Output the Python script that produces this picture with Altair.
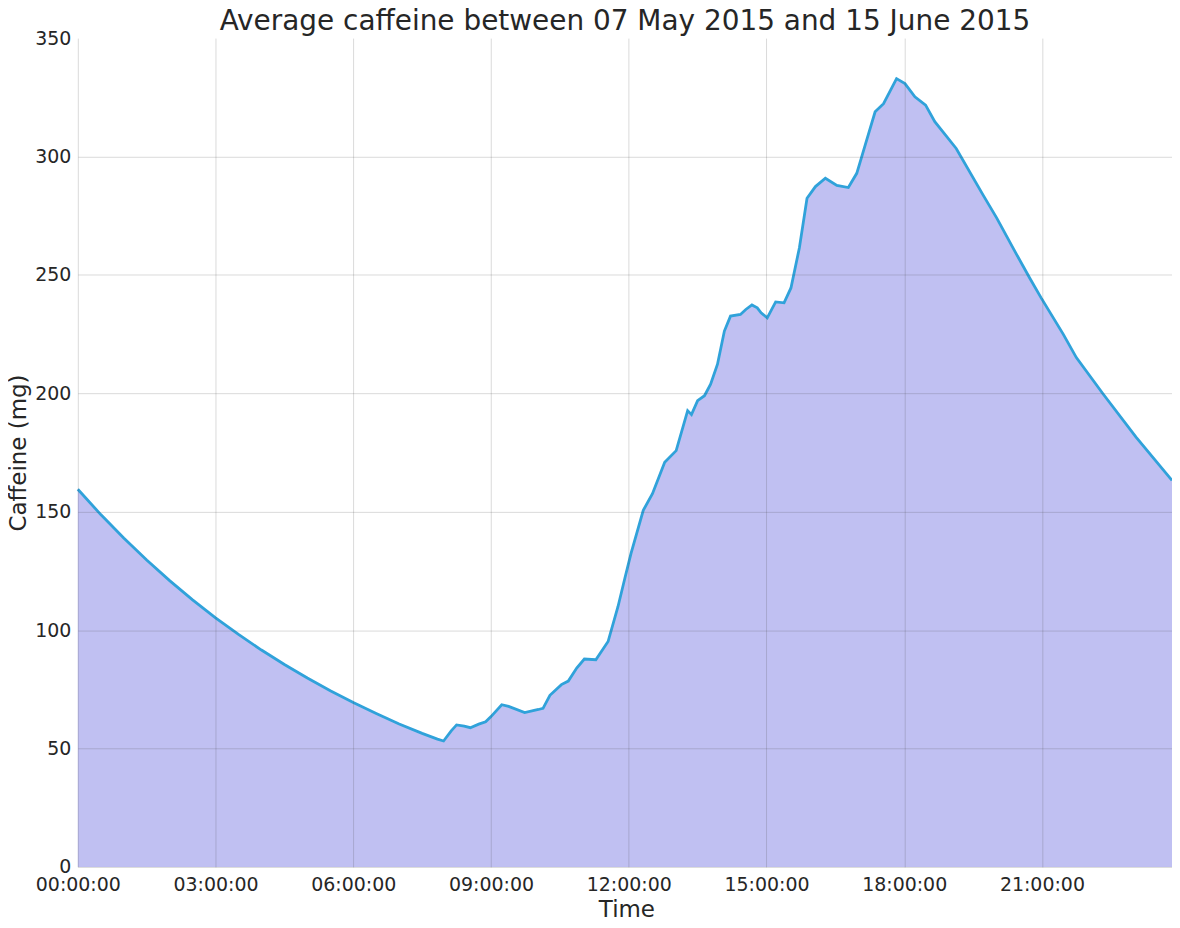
import altair as alt
import pandas as pd

times = ["00:00", "00:30", "01:00", "01:30", "02:00", "02:30", "03:00", "03:30",
         "04:00", "04:30", "05:00", "05:30", "06:00", "06:30", "07:00", "07:30",
         "07:50", "07:58", "08:08", "08:15", "08:25", "08:33", "08:44", "08:53",
         "09:00", "09:14", "09:23", "09:44", "10:02", "10:08", "10:17", "10:32",
         "10:41", "10:52", "11:02", "11:17", "11:33", "11:46", "11:55", "12:03",
         "12:19", "12:31", "12:47", "13:02", "13:17", "13:22", "13:30", "13:39",
         "13:47", "13:56", "14:05", "14:13", "14:26", "14:33", "14:41", "14:48",
         "14:53", "15:01", "15:12", "15:23", "15:32", "15:43", "15:53", "16:04",
         "16:17", "16:32", "16:47", "16:58", "17:09", "17:22", "17:33", "17:50",
         "18:01", "18:14", "18:28", "18:40", "19:08", "19:43", "20:01", "20:27",
         "20:44", "20:59", "21:28", "21:45", "22:20", "23:03", "23:50"]
caffeine = [159.5, 148.8, 138.9, 129.6, 120.9, 112.8, 105.2, 98.2,
            91.6, 85.5, 79.8, 74.4, 69.4, 64.8, 60.4, 56.4,
            54.0, 53.2, 57.5, 60.0, 59.5, 58.8, 60.3, 61.3,
            63.5, 68.5, 67.8, 65.2, 66.5, 67.0, 72.5, 77.0,
            78.5, 84.0, 87.8, 87.5, 95.2, 110.0, 122.0, 132.4,
            150.6, 157.6, 170.9, 175.8, 192.7, 191.0, 196.9, 199.0,
            203.9, 212.3, 226.3, 232.6, 233.3, 235.4, 237.3, 236.1,
            234.0, 231.9, 238.6, 238.2, 244.5, 261.4, 282.4, 287.3,
            290.8, 287.8, 286.9, 292.9, 304.8, 318.9, 322.3, 332.9,
            330.8, 325.2, 321.7, 314.7, 303.4, 283.8, 274.0, 258.6,
            248.7, 240.3, 224.9, 215.1, 199.7, 181.5, 163.2]

x_ticks = [0, 180, 360, 540, 720, 900, 1080, 1260]
y_ticks = [0, 50, 100, 150, 200, 250, 300, 350]
title_text = "Average caffeine between 07 May 2015 and 15 June 2015"

df = pd.DataFrame({"time": times, "caffeine": caffeine})
df["minutes"] = [int(t[:2]) * 60 + int(t[3:]) for t in times]

FONT = "DejaVu Sans"
GRID_OP = {"condition": {"test": "datum.value == 350", "value": 0}, "value": 0.2}

x_enc = alt.X(
    "minutes:Q",
    scale=alt.Scale(domain=[0, 1430], nice=False, zero=False),
    axis=alt.Axis(
        title="Time",
        values=x_ticks,
        labelExpr="(floor(datum.value/60) < 10 ? '0' : '') + floor(datum.value/60) + ':00:00'",
        grid=True,
        gridColor="#444444",
        gridOpacity=0.2,
        gridWidth=1,
        domain=False,
        ticks=False,
        tickSize=0,
        labelPadding=24,
        labelBaseline="alphabetic",
        labelFontSize=19,
        labelFont=FONT,
        labelColor="#262626",
        labelFlush=False,
        labelOverlap=False,
        titleFont=FONT,
        titleFontSize=23,
        titleFontWeight="normal",
        titleColor="#262626",
        titleX=550,
        titleY=50,
        titleBaseline="alphabetic",
        titleAlign="center",
        zindex=1,
    ),
)

y_enc = alt.Y(
    "caffeine:Q",
    scale=alt.Scale(domain=[0, 350], nice=False),
    axis=alt.Axis(
        title="Caffeine (mg)",
        values=y_ticks,
        grid=True,
        gridColor="#444444",
        gridOpacity=GRID_OP,
        gridWidth=1,
        domain=False,
        ticks=False,
        tickSize=0,
        labelPadding=7,
        labelFontSize=19,
        labelFont=FONT,
        labelColor="#262626",
        labelFlush=False,
        labelOverlap=False,
        titleFont=FONT,
        titleFontSize=23,
        titleFontWeight="normal",
        titleColor="#262626",
        titleX=-52,
        titleY=415.5,
        titleAngle=270,
        titleBaseline="alphabetic",
        titleAlign="center",
        zindex=1,
    ),
)

base = alt.Chart(df)
area = base.mark_area(color="#C0C0F2", opacity=1, interpolate="linear").encode(x=x_enc, y=y_enc)
line = base.mark_line(color="#30a2da", strokeWidth=2.8, interpolate="linear").encode(x="minutes:Q", y="caffeine:Q")

chart = (
    alt.layer(area, line)
    .properties(
        width=1097,
        height=831,
        title=alt.TitleParams(
            text=title_text,
            font=FONT,
            fontSize=28,
            fontWeight="normal",
            color="#262626",
            anchor="middle",
            frame="group",
            offset=7,
            dy=14,
        ),
        autosize=alt.AutoSizeParams(type="none"),
        padding={"left": 70, "top": 29, "right": 0, "bottom": 52},
    )
    .configure(background="white")
    .configure_view(stroke=None)
)

chart.save("out.html", embed_options={"renderer": "svg", "actions": False})
